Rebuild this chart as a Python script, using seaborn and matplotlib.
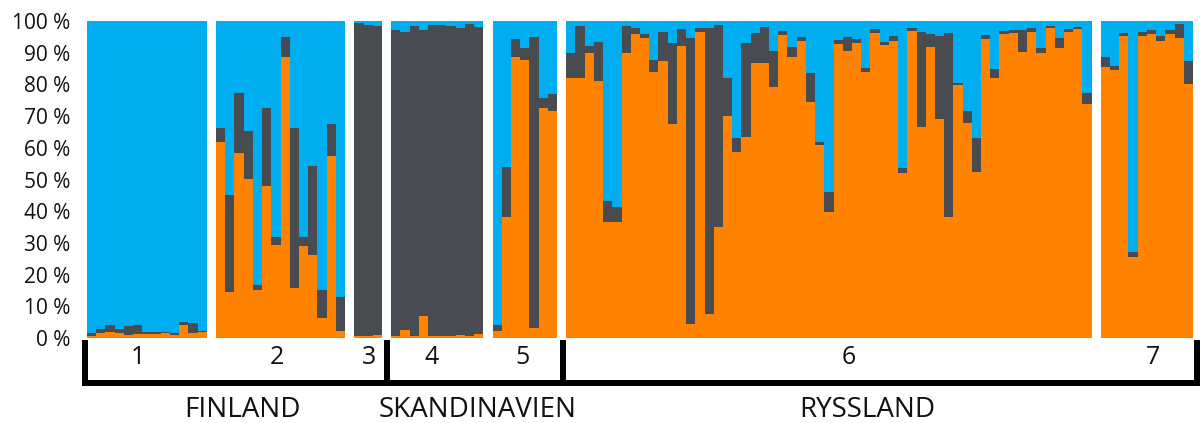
import numpy as np
import pandas as pd
import seaborn as sns
import matplotlib
matplotlib.use("Agg")
import matplotlib.pyplot as plt
from matplotlib.transforms import blended_transform_factory

# Cluster membership (%) per individual: orange and dark-grey shares, blue is the remainder
group_names = ["1", "2", "3", "4", "5", "6", "7"]

orange_1 = [0.6, 1.5, 1.8, 1.5, 0.9, 1.2, 1.2, 1.2, 1.5, 0.9, 4.1, 1.5, 1.8]
dark_1 = [0.9, 1.2, 2.3, 1.2, 2.9, 2.9, 0.8, 0.8, 0.5, 0.6, 1.1, 3.3, 0.5]

orange_2 = [61.7, 14.5, 58.3, 50.2, 15.0, 48.1, 29.2, 88.8, 15.8, 28.9, 26.1, 6.3, 57.5, 2.1]
dark_2 = [4.5, 30.7, 18.9, 15.2, 1.8, 24.6, 2.8, 6.2, 50.4, 3.1, 28.3, 8.7, 10.0, 10.8]

orange_3 = [0.5, 0.7, 0.8]
dark_3 = [98.8, 98.0, 97.6]

orange_4 = [0.6, 2.5, 0.7, 7.0, 0.6, 0.6, 0.7, 0.9, 0.7, 1.2]
dark_4 = [96.6, 93.9, 97.7, 90.2, 98.1, 98.1, 97.7, 97.0, 98.4, 97.0]

orange_5 = [2.2, 38.3, 88.7, 87.7, 3.0, 72.5, 71.6]
dark_5 = [1.9, 15.7, 5.5, 3.7, 92.1, 3.1, 5.3]

orange_6 = [82.1, 81.9, 89.8, 81.2, 36.5, 36.7, 90.0, 95.8, 94.7, 84.0,
            87.5, 67.5, 92.2, 4.3, 96.6, 7.6, 35.1, 70.1, 58.8, 63.5,
            86.6, 86.6, 79.3, 95.6, 88.5, 93.7, 74.6, 60.9, 39.6, 92.6,
            90.5, 93.0, 83.8, 96.1, 92.4, 93.8, 51.9, 97.0, 66.7, 91.9,
            69.1, 38.3, 79.8, 67.7, 52.5, 94.3, 81.9, 95.9, 96.1, 90.3,
            96.6, 90.0, 97.7, 91.4, 96.6, 97.4, 73.7]
dark_6 = [7.7, 16.5, 2.3, 12.1, 6.7, 4.7, 8.4, 1.9, 1.1, 3.7,
          8.9, 25.7, 5.2, 90.2, 1.1, 90.3, 63.6, 12.0, 4.2, 29.5,
          9.5, 11.6, 11.2, 1.4, 3.4, 1.4, 8.9, 0.8, 6.4, 1.4,
          4.6, 1.2, 1.3, 1.3, 1.1, 1.5, 1.8, 0.9, 29.9, 3.9,
          26.3, 57.8, 0.7, 3.9, 10.5, 1.3, 3.0, 0.9, 1.1, 6.9,
          1.1, 1.4, 0.7, 3.1, 0.8, 0.8, 3.5]

orange_7 = [85.6, 84.5, 95.4, 25.7, 95.4, 95.9, 93.8, 95.9, 94.5, 80.1]
dark_7 = [3.1, 1.4, 0.9, 1.5, 1.2, 1.3, 1.6, 1.3, 4.4, 7.4]

region_names = ["FINLAND", "SKANDINAVIEN", "RYSSLAND"]
y_ticks = [0, 10, 20, 30, 40, 50, 60, 70, 80, 90, 100]

orange_groups = [orange_1, orange_2, orange_3, orange_4, orange_5, orange_6, orange_7]
dark_groups = [dark_1, dark_2, dark_3, dark_4, dark_5, dark_6, dark_7]

C_ORANGE = "#FF8300"
C_DARK = "#484B4F"
C_BLUE = "#00AEEF"

# Lay individuals out side by side, leaving one empty slot between populations
rows = []
slot = 0
group_bounds = []
for name, org, drk in zip(group_names, orange_groups, dark_groups):
    start = slot
    for o, d in zip(org, drk):
        rows.append({"pos": slot, "group": name, "orange": o, "dark": d})
        slot += 1
    group_bounds.append((start, slot - 1))
    slot += 1
df = pd.DataFrame(rows)
df["orange_dark"] = df["orange"] + df["dark"]
df["total"] = 100.0

sns.set_theme(style="white")
plt.rcParams["font.family"] = ["Open Sans", "DejaVu Sans"]

fig = plt.figure(figsize=(12, 4.23), dpi=100)
ax = fig.add_axes([87 / 1200, 1 - 338 / 423, (1193 - 87) / 1200, (338 - 21) / 423])

bar_kw = dict(native_scale=True, width=1.0, errorbar=None, linewidth=0,
              edgecolor="none", antialiased=False, ax=ax)
sns.barplot(data=df, x="pos", y="total", color=C_BLUE, saturation=1, **bar_kw)
sns.barplot(data=df, x="pos", y="orange_dark", color=C_DARK, saturation=1, **bar_kw)
sns.barplot(data=df, x="pos", y="orange", color=C_ORANGE, saturation=1, **bar_kw)

ax.set_xlim(-0.5, slot - 1.5)
ax.set_ylim(0, 100)
ax.set_xlabel("")
ax.set_ylabel("")
ax.set_xticks([])
ax.set_yticks(y_ticks)
ax.set_yticklabels([f"{v} %" for v in y_ticks], fontsize=15, color="#111111")
ax.tick_params(axis="y", length=0, pad=12)
sns.despine(ax=ax, left=True, bottom=True)

# Population brackets below the bars
tr = blended_transform_factory(ax.transData, ax.transAxes)
y_top, y_bot = -0.006, -0.1435
x_left, x_right = -0.72, 119.9
div_1 = (group_bounds[2][1] + group_bounds[3][0]) / 2 + 0.1
div_2 = (group_bounds[4][1] + group_bounds[5][0]) / 2 + 0.1
line_kw = dict(color="black", lw=4.3, transform=tr, clip_on=False,
               solid_capstyle="butt", solid_joinstyle="miter")
ax.plot([x_left, x_left, x_right, x_right], [y_top, y_bot, y_bot, y_top], **line_kw)
ax.plot([div_1, div_1], [y_top, y_bot], **line_kw)
ax.plot([div_2, div_2], [y_top, y_bot], **line_kw)

num_label_x = [5.0, 20.1, 30.1, 36.9, 46.8, 82.1, 115.2]
for name, xl in zip(group_names, num_label_x):
    ax.text(xl, -0.06, name, transform=tr, ha="center", va="center",
            fontsize=18, color="#111111")

region_label_x = [16.4, 41.9, 84.2]
for name, xl in zip(region_names, region_label_x):
    ax.text(xl, -0.227, name, transform=tr, ha="center", va="center",
            fontsize=20, color="#111111")

fig.savefig("out.png", dpi=100)
